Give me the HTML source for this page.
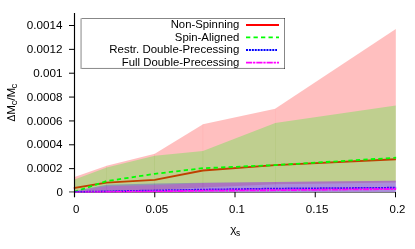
<!DOCTYPE html>
<html>
<head>
<meta charset="utf-8">
<title>Chart</title>
<style>
  html, body { margin: 0; padding: 0; background: #ffffff; }
  body { width: 415px; height: 249px; overflow: hidden; }
  svg { display: block; }
  text { font-family: "Liberation Sans", sans-serif; font-size: 10.6px; fill: #000; }
  .sub { font-size: 8.4px; }
</style>
</head>
<body>
<svg width="415" height="249" viewBox="0 0 415 249">
  <defs>
    <clipPath id="plotclip"><rect x="73.5" y="12" width="323.2" height="180.6"/></clipPath>
  </defs>
  <rect x="0" y="0" width="415" height="249" fill="#ffffff"/>

  <!-- axes -->
  <g stroke="#000" stroke-width="1" fill="none">
    <path d="M74 192.45 H395.5" stroke="#777"/>
    <path d="M69 191.9 H74.5" stroke="#111" stroke-width="1.6" stroke-opacity="0.5"/>
    <path d="M69 25.5 H74.5 M69 49.36 H74.5 M69 73.21 H74.5 M69 97.07 H74.5 M69 120.93 H74.5 M69 144.79 H74.5 M69 168.64 H74.5"/>
    <path d="M154.75 192 V197.3 M235 192 V197.3 M315.25 192 V197.3 M395.5 192 V197.3"/>
  </g>

  <g clip-path="url(#plotclip)">
    <!-- Non-Spinning -->
    <polygon fill="#ff0000" fill-opacity="0.25" points="74.50,192.00 74.50,177.10 106.78,165.74 106.78,191.50"/>
    <polygon fill="#ff0000" fill-opacity="0.25" points="106.60,191.50 106.60,165.80 154.93,153.76 154.93,189.99"/>
    <polygon fill="#ff0000" fill-opacity="0.25" points="154.75,190.00 154.75,153.80 203.08,124.19 203.08,187.49"/>
    <polygon fill="#ff0000" fill-opacity="0.25" points="202.90,187.50 202.90,124.30 275.28,108.76 275.28,184.29"/>
    <polygon fill="#ff0000" fill-opacity="0.25" points="275.10,184.30 275.10,108.80 395.80,29.00 395.80,182.50"/>
    <polyline fill="none" stroke="#ff0000" stroke-width="1.8" stroke-linejoin="round" stroke-linecap="square" points="74.50,187.90 106.60,182.70 154.75,179.80 202.90,170.50 275.10,165.10 395.00,159.30"/>
    <!-- Spin-Aligned -->
    <polygon fill="#00ff00" fill-opacity="0.25" points="74.50,192.00 74.50,179.40 106.78,167.53 106.78,192.00"/>
    <polygon fill="#00ff00" fill-opacity="0.25" points="106.60,192.00 106.60,167.60 154.93,155.66 154.93,192.00"/>
    <polygon fill="#00ff00" fill-opacity="0.25" points="154.75,192.00 154.75,155.70 203.08,150.88 203.08,192.00"/>
    <polygon fill="#00ff00" fill-opacity="0.25" points="202.90,192.00 202.90,150.90 275.28,123.03 275.28,192.00"/>
    <polygon fill="#00ff00" fill-opacity="0.25" points="275.10,192.00 275.10,123.10 395.80,105.40 395.80,192.00"/>
    <polyline fill="none" stroke="#00ff00" stroke-width="1.8" stroke-dasharray="4.3 3.2" stroke-dashoffset="0.8" stroke-linejoin="round" points="74.50,191.80 106.60,181.10 154.75,173.80 202.90,168.20 275.10,165.10 396.20,157.70"/>
    <!-- Restr. Double-Precessing -->
    <polygon fill="#0000ff" fill-opacity="0.25" points="74.50,192.00 74.50,191.00 106.78,184.77 106.78,192.00"/>
    <polygon fill="#0000ff" fill-opacity="0.25" points="106.60,192.00 106.60,184.80 154.93,183.39 154.93,192.00"/>
    <polygon fill="#0000ff" fill-opacity="0.25" points="154.75,192.00 154.75,183.40 203.08,182.80 203.08,192.00"/>
    <polygon fill="#0000ff" fill-opacity="0.25" points="202.90,192.00 202.90,182.80 275.28,182.00 275.28,192.00"/>
    <polygon fill="#0000ff" fill-opacity="0.25" points="275.10,192.00 275.10,182.00 395.80,180.80 395.80,192.00"/>
    <polyline fill="none" stroke="#0000ff" stroke-width="1.8" stroke-dasharray="2 0.92" points="74.50,192.00 106.60,191.40 154.75,190.50 202.90,189.60 275.10,188.60 396.20,187.70"/>
    <!-- Full Double-Precessing -->
    <polygon fill="#ff00ff" fill-opacity="0.25" points="74.50,192.00 74.50,191.50 106.78,186.27 106.78,192.00"/>
    <polygon fill="#ff00ff" fill-opacity="0.25" points="106.60,192.00 106.60,186.30 154.93,185.00 154.93,192.00"/>
    <polygon fill="#ff00ff" fill-opacity="0.25" points="154.75,192.00 154.75,185.00 203.08,182.99 203.08,192.00"/>
    <polygon fill="#ff00ff" fill-opacity="0.25" points="202.90,192.00 202.90,183.00 275.28,182.00 275.28,192.00"/>
    <polygon fill="#ff00ff" fill-opacity="0.25" points="275.10,192.00 275.10,182.00 395.80,180.80 395.80,192.00"/>
    <polyline fill="none" stroke="#ff00ff" stroke-width="1.8" stroke-dasharray="6.2 0.85 2.3 0.95" points="74.50,192.70 106.60,192.05 154.75,191.45 202.90,190.70 275.10,190.20 396.20,189.00"/>
  </g>

  <path d="M74.5 13 V197.3" stroke="#000" stroke-width="1.15" fill="none"/>

  <g id="labels" style="will-change:transform">
  <!-- legend -->
  <path d="M81.6 18.5 H285 M284.5 18 V69 M81.6 68.45 H285 M81.05 18.4 V68.9" fill="none" stroke="#000" stroke-opacity="0.47" stroke-width="1"/>
  <g text-anchor="end">
    <text x="239.3" y="28.2" textLength="68.6" lengthAdjust="spacingAndGlyphs">Non-Spinning</text>
    <text x="239.3" y="40.75" textLength="64.5" lengthAdjust="spacingAndGlyphs">Spin-Aligned</text>
    <text x="239.3" y="53.3" textLength="130" lengthAdjust="spacingAndGlyphs">Restr. Double-Precessing</text>
    <text x="239.3" y="65.85" textLength="117.5" lengthAdjust="spacingAndGlyphs">Full Double-Precessing</text>
  </g>
  <path d="M246 25 H279" stroke="#ff0000" stroke-width="1.8" fill="none"/>
  <path d="M246 37.45 H279" stroke="#00ff00" stroke-width="1.8" stroke-dasharray="4.3 3.2" fill="none"/>
  <path d="M246 50 H277" stroke="#0000ff" stroke-width="1.8" stroke-dasharray="2 0.92" fill="none"/>
  <path d="M246 62.65 H279" stroke="#ff00ff" stroke-width="1.8" stroke-dasharray="6.2 0.85 2.3 0.95" fill="none"/>

  <!-- y tick labels -->
  <g text-anchor="end">
    <text x="62.4" y="29.2" textLength="35.7" lengthAdjust="spacingAndGlyphs">0.0014</text>
    <text x="62.4" y="53.0" textLength="35.7" lengthAdjust="spacingAndGlyphs">0.0012</text>
    <text x="62.4" y="76.9" textLength="29.2" lengthAdjust="spacingAndGlyphs">0.001</text>
    <text x="62.4" y="100.7" textLength="35.7" lengthAdjust="spacingAndGlyphs">0.0008</text>
    <text x="62.4" y="124.6" textLength="35.7" lengthAdjust="spacingAndGlyphs">0.0006</text>
    <text x="62.4" y="148.4" textLength="35.7" lengthAdjust="spacingAndGlyphs">0.0004</text>
    <text x="62.4" y="172.3" textLength="35.7" lengthAdjust="spacingAndGlyphs">0.0002</text>
    <text x="62.8" y="195.8" textLength="6.4" lengthAdjust="spacingAndGlyphs">0</text>
  </g>

  <!-- x tick labels -->
  <g text-anchor="middle">
    <text x="76.3" y="212.8" textLength="6.4" lengthAdjust="spacingAndGlyphs">0</text>
    <text x="156.85" y="212.8" textLength="22.6" lengthAdjust="spacingAndGlyphs">0.05</text>
    <text x="237" y="212.8" textLength="15.9" lengthAdjust="spacingAndGlyphs">0.1</text>
    <text x="317.15" y="212.8" textLength="22.6" lengthAdjust="spacingAndGlyphs">0.15</text>
    <text x="397.5" y="212.8" textLength="15.9" lengthAdjust="spacingAndGlyphs">0.2</text>
  </g>

  <!-- x label -->
  <text x="230.3" y="233.2" textLength="6.2" lengthAdjust="spacingAndGlyphs">χ</text>
  <text x="236.0" y="235.8" class="sub">s</text>

  <!-- y label -->
  <g transform="translate(14.5,121.5) rotate(-90)">
    <text x="0" y="0" textLength="6.9" lengthAdjust="spacingAndGlyphs">Δ</text>
    <text x="6.8" y="0" textLength="9.8" lengthAdjust="spacingAndGlyphs">M</text>
    <text x="16.2" y="2.4" class="sub" textLength="4.8" lengthAdjust="spacingAndGlyphs">c</text>
    <text x="20.7" y="0" textLength="3.4" lengthAdjust="spacingAndGlyphs">/</text>
    <text x="23.9" y="0" textLength="9.8" lengthAdjust="spacingAndGlyphs">M</text>
    <text x="33.0" y="2.4" class="sub" textLength="4.8" lengthAdjust="spacingAndGlyphs">c</text>
  </g>
  </g>
</svg>
</body>
</html>
